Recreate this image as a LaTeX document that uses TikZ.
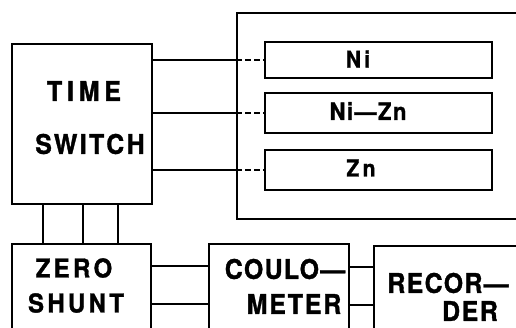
\documentclass[tikz,border=0pt]{standalone}
\usepackage{fontspec}
\setmainfont{TeX Gyre Heros}[FakeBold=1.2]
\usetikzlibrary{calc}
\newcommand{\lsp}[2]{\fontsize{#1}{#1}\selectfont\bfseries\addfontfeature{LetterSpace=#2,FakeStretch=0.92}}
\begin{document}
\begin{tikzpicture}[x=1pt,y=-1pt,
  box/.style={draw, rectangle, line width=1.6pt, inner sep=0pt, anchor=north west},
  wire/.style={line width=1.6pt},
  dwire/.style={line width=1.6pt, dash pattern=on 6pt off 3pt},
  lbl/.style={inner sep=0pt, anchor=center}]
\useasboundingbox (0,0) rectangle (516,327);
\clip (0,0) rectangle (516,327);
% boxes
\node[box, minimum width=140pt, minimum height=160pt] (ts) at (11,43) {};
\node[box, minimum width=330pt, minimum height=206pt] (bath) at (236,12) {};
\node[box, minimum width=227pt, minimum height=36pt] (ni) at (264,41) {};
\node[box, minimum width=227pt, minimum height=40pt] (nizn) at (264,92) {};
\node[box, minimum width=227pt, minimum height=40pt] (zn) at (264,149) {};
\node[box, minimum width=139pt, minimum height=120pt] (zs) at (11,243) {};
\node[box, minimum width=140pt, minimum height=120pt] (cm) at (208,243) {};
\node[box, minimum width=220pt, minimum height=120pt] (rec) at (373,245) {};
% labels
\node[lbl, font=\lsp{27}{18}] (l1) at (84,91) {TIME};
\node[lbl, font=\lsp{27}{9}] (l2) at (90,144) {SWITCH};
\node[lbl, font=\lsp{23}{14}] (l3) at (358,59) {Ni};
\node[lbl, font=\lsp{24}{6}] (l4) at (368,111) {Ni—Zn};
\node[lbl, font=\lsp{23}{14}] (l5) at (361,168) {Zn};
\node[lbl, font=\lsp{26}{13}] (l6) at (74,268) {ZERO};
\node[lbl, font=\lsp{26}{13}] (l7) at (76,303) {SHUNT};
\node[lbl, font=\lsp{27}{5}] (l8) at (285,269) {COULO—};
\node[lbl, font=\lsp{27}{7}] (l9) at (294,304) {METER};
\node[lbl, font=\lsp{27}{5}] (l10) at (448,283) {RECOR—};
\node[lbl, font=\lsp{27}{6}] (l11) at (470,311) {DER};
% connectors time switch -> cells
\foreach \b in {ni,nizn,zn}{
  \draw[wire] (ts.east |- \b.west) -- (bath.west |- \b.west);
  \draw[dwire] (bath.west |- \b.west) -- (\b.west);
}
% time switch -> zero shunt
\foreach \dx in {32,72,107}{
  \draw[wire] ($(ts.south west)+(\dx,0)$) -- ($(zs.north west)+(\dx,0)$);
}
% zero shunt -> coulometer
\foreach \dy in {23,61}{
  \draw[wire] ($(zs.north east)+(0,\dy)$) -- ($(cm.north west)+(0,\dy)$);
}
% coulometer -> recorder
\foreach \dy in {24,62}{
  \draw[wire] ($(cm.north east)+(0,\dy)$) -- ($(rec.north west)+(0,\dy-2)$);
}
\end{tikzpicture}
\end{document}
